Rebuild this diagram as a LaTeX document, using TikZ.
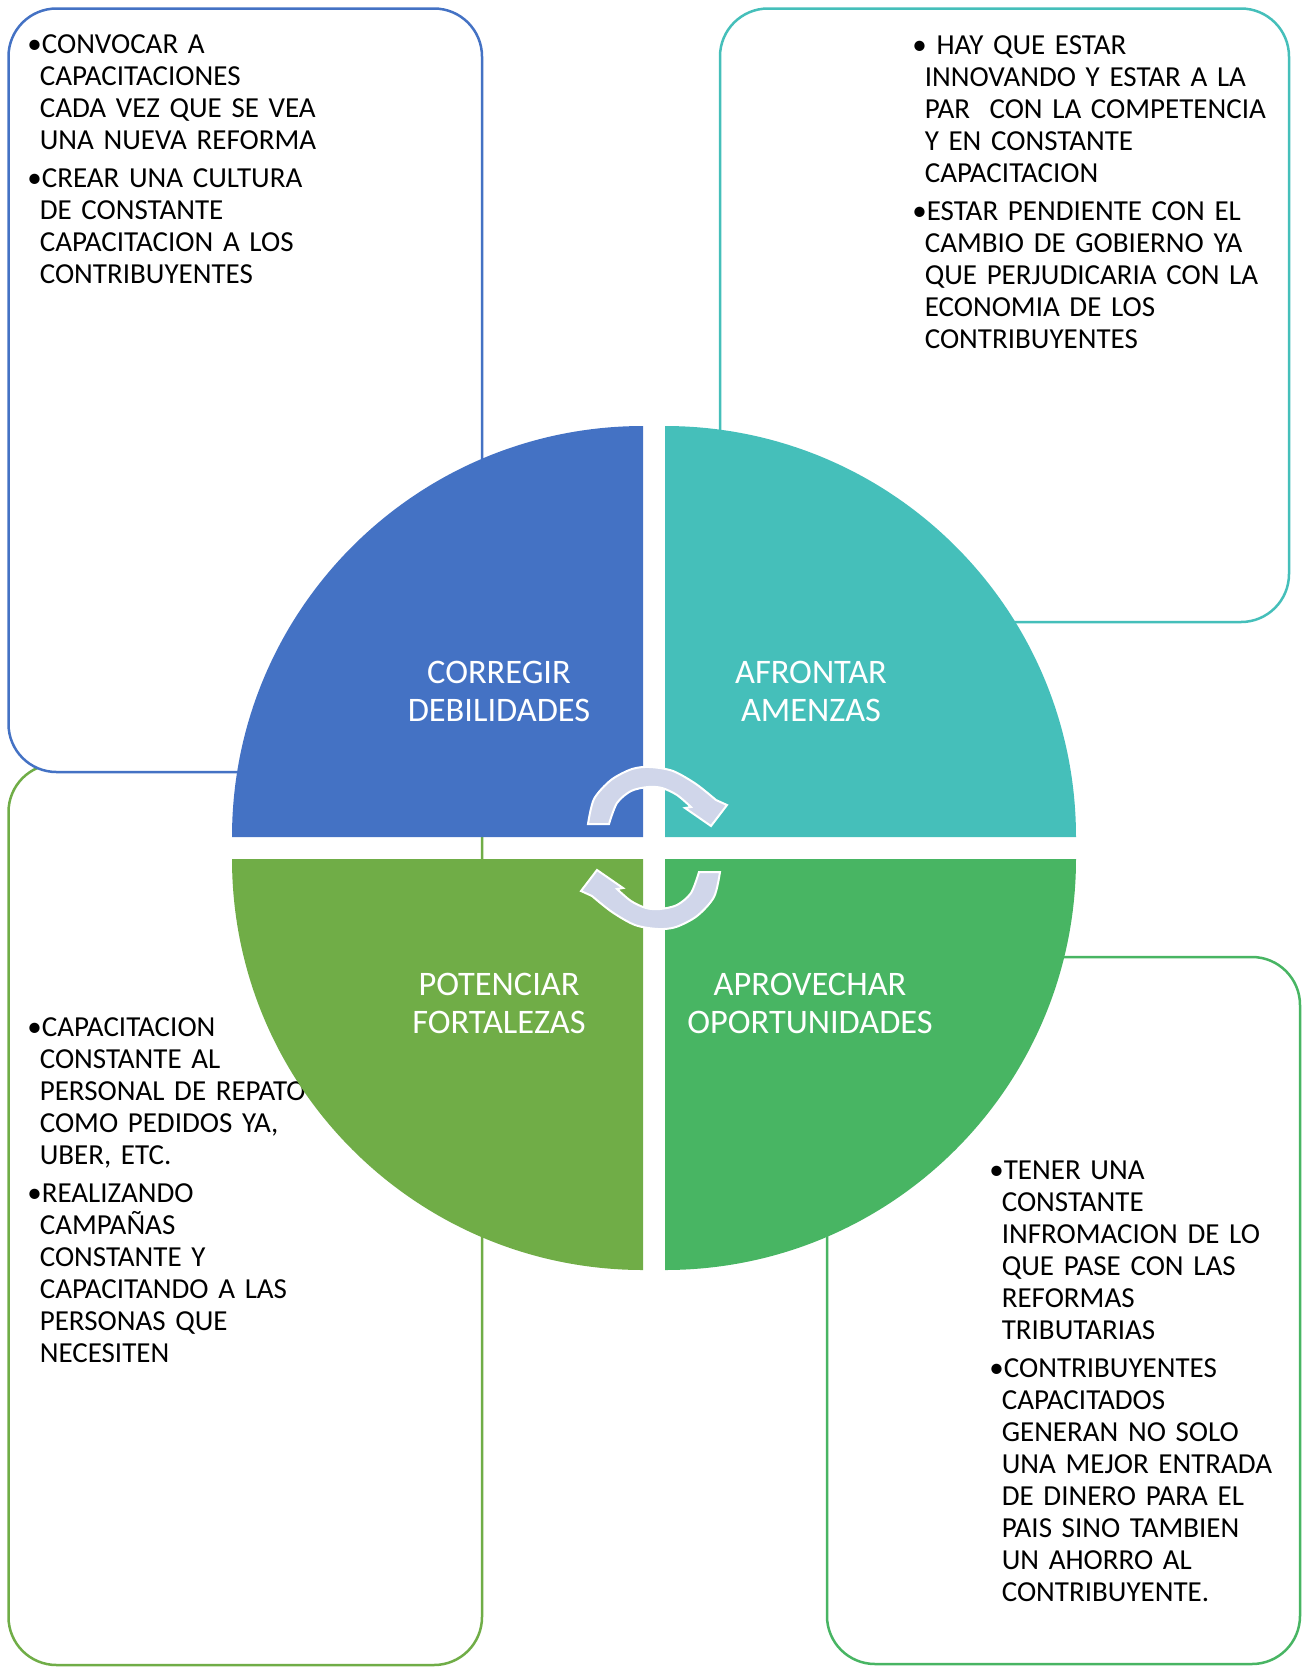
\documentclass[tikz,border=0pt]{standalone}
\usepackage{fontspec}
\setmainfont{Carlito}
\usepackage{xcolor}
\usepackage{tikz}

\definecolor{dblue}{HTML}{4472C4}
\definecolor{tteal}{HTML}{45BFBA}
\definecolor{fgreen}{HTML}{70AD47}
\definecolor{ogreen}{HTML}{48B563}
\definecolor{arrowfill}{HTML}{D0D6EA}

\newcommand{\bitem}[1]{\noindent\hangindent=6.2pt\hangafter=1\textbullet#1\par}

\begin{document}
\begin{tikzpicture}[
      x=0.5pt, y=-0.5pt,
      box/.style={draw, line width=1.25pt, rounded corners=24pt, fill=white},
      itemtext/.style={anchor=north west, inner sep=0pt, text width=300pt, font=\fontsize{14.5}{16}\selectfont},
      quadtext/.style={text=white, align=center, inner sep=0pt, font=\fontsize{17.2}{19}\selectfont},
      cyclearrow/.style={fill=arrowfill, draw=white, line width=1pt}
    ]
    \useasboundingbox (0,0) rectangle (1305,1667);

    % Boxes
    \draw[box, draw=fgreen] (8.5,764) rectangle (482,1665);
    \draw[box, draw=dblue] (8.5,8.5) rectangle (482,772);
    \draw[box, draw=tteal] (720,8.5) rectangle (1289,622);
    \draw[box, draw=ogreen] (827,957) rectangle (1300,1664);

    % Box texts
    \node[itemtext] (debtext) at (27,34) {\bitem{CONVOCAR A\newline CAPACITACIONES\newline CADA VEZ QUE SE VEA\newline UNA NUEVA REFORMA}\vspace{3pt}%
      \bitem{CREAR UNA CULTURA\newline DE CONSTANTE\newline CAPACITACION A LOS\newline CONTRIBUYENTES}};
    \node[itemtext] (amentext) at (912,35.5) {\bitem{\ HAY QUE ESTAR\newline INNOVANDO Y ESTAR A LA\newline PAR\ \ CON LA COMPETENCIA\newline Y EN CONSTANTE\newline CAPACITACION}\vspace{3pt}%
      \bitem{ESTAR PENDIENTE CON EL\newline CAMBIO DE GOBIERNO YA\newline QUE PERJUDICARIA CON LA\newline ECONOMIA DE LOS\newline CONTRIBUYENTES}};
    \node[itemtext] (forttext) at (27,1017) {\bitem{CAPACITACION\newline CONSTANTE AL\newline PERSONAL DE REPATO\newline COMO PEDIDOS YA,\newline UBER, ETC.}\vspace{3pt}%
      \bitem{REALIZANDO\newline CAMPAÑAS\newline CONSTANTE Y\newline CAPACITANDO A LAS\newline PERSONAS QUE\newline NECESITEN}};
    \node[itemtext] (oporttext) at (989,1160.5) {\bitem{TENER UNA\newline CONSTANTE\newline INFROMACION DE LO\newline QUE PASE CON LAS\newline REFORMAS\newline TRIBUTARIAS}\vspace{3pt}%
      \bitem{CONTRIBUYENTES\newline CAPACITADOS\newline GENERAN NO SOLO\newline UNA MEJOR ENTRADA\newline DE DINERO PARA EL\newline PAIS SINO TAMBIEN\newline UN AHORRO AL\newline CONTRIBUYENTE.}};

    % Quadrants
    \fill[dblue] (643,837) -- (232,837) arc[start angle=180, end angle=270, radius=411] -- cycle;
    \fill[tteal] (665,837) -- (665,426) arc[start angle=270, end angle=360, radius=411] -- cycle;
    \fill[ogreen] (665,859) -- (1076,859) arc[start angle=0, end angle=90, radius=411] -- cycle;
    \fill[fgreen] (643,859) -- (643,1270) arc[start angle=90, end angle=180, radius=411] -- cycle;

    \node[quadtext] (debil) at (499,691.5) {CORREGIR\\DEBILIDADES};
    \node[quadtext] (amenaza) at (811,691.5) {AFRONTAR\\AMENZAS};
    \node[quadtext] (fortaleza) at (499,1003.5) {POTENCIAR\\FORTALEZAS};
    \node[quadtext] (oportunidad) at (810,1003.5) {APROVECHAR\\OPORTUNIDADES};

    % Cycle arrows in the middle
    \foreach \rot in {0,180}{
      \filldraw[cyclearrow, rotate around={\rot:(654,848)}]
        plot[smooth] coordinates {(588,824) (594,799) (611,780) (632,769) (650,767) (673,771) (696,784) (716,800)}
        -- (727,805) -- (711,826) -- (685,808)
        -- plot[smooth] coordinates {(691,807) (677,795) (662,788) (648,787) (631,791) (617,803) (609,824)}
        -- cycle;
    }
  \end{tikzpicture}
\end{document}
